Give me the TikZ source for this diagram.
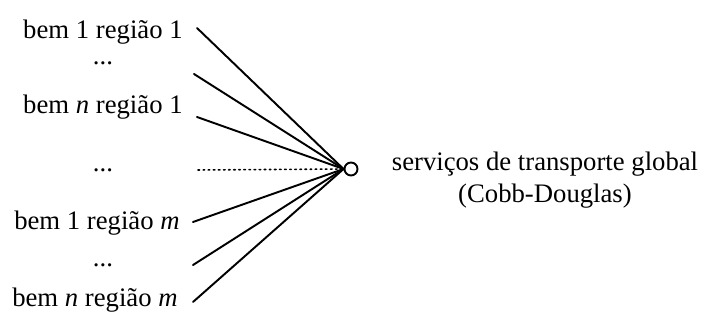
\documentclass[tikz,border=0pt]{standalone}
\usepackage{fontspec}
\setmainfont{Liberation Serif}
\usetikzlibrary{positioning}
\tikzset{
  every picture/.style={line join=round, line cap=round},
  bem/.style={anchor=east, inner sep=0pt, font=\fontsize{15.2}{18}\selectfont},
  dots/.style={anchor=base, inner sep=0pt, font=\fontsize{15.2}{18}\selectfont},
  ligacao/.style={line width=1.1pt},
}

\begin{document}
\begin{tikzpicture}[x=0.02cm,y=-0.02cm]
\useasboundingbox (0,0) rectangle (701,320);
% bens por regiao
\node[bem] (b1) at (183,32) {bem 1 região 1};
\node[dots] (d1) at (103,65) {...};
\node[bem] (b2) at (183,107) {bem \textit{n} região 1};
\node[dots] (d2) at (103,172) {...};
\node[bem] (b3) at (180,223) {bem 1 região \textit{m}};
\node[dots] (d3) at (103,267) {...};
\node[bem] (b4) at (178,300) {bem \textit{n} região \textit{m}};
% pontos de partida
\coordinate (s1) at (197,28);
\coordinate (s2) at (194,74);
\coordinate (s3) at (197,117);
\coordinate (s4) at (198,170);
\coordinate (s5) at (193,222);
\coordinate (s6) at (193,265);
\coordinate (s7) at (193,302);
% agregador
\node[draw, circle, line width=1.1pt, minimum size=13*0.02cm, inner sep=0pt] (cd) at (351,169) {};
\node[font=\fontsize{15.2}{18}\selectfont, align=center, inner sep=0pt] (srv) at (545,180)
  {serviços de transporte global\\(Cobb-Douglas)};
\foreach \s in {s1,s2,s3,s5,s6,s7}
  \draw[ligacao] (\s) -- (cd.west);
\draw[line width=0.9pt, dotted] (s4) -- (cd.west);
\end{tikzpicture}
\end{document}
